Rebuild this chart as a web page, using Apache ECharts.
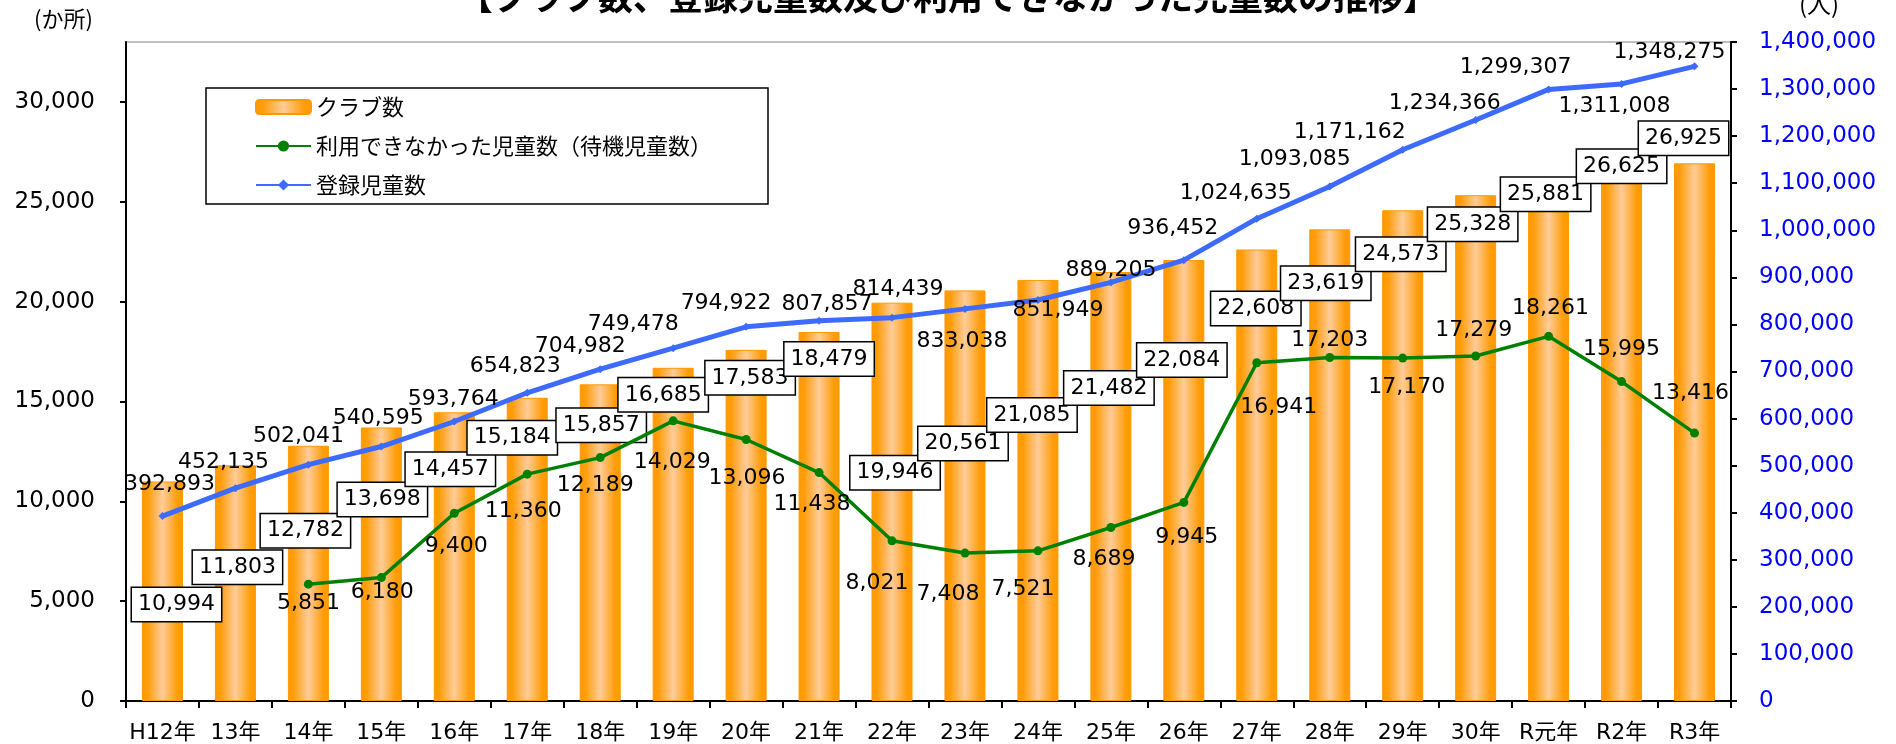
<!DOCTYPE html>
<html>
<head>
<meta charset="utf-8">
<title>クラブ数の推移</title>
<script src="https://cdn.jsdelivr.net/npm/echarts@6/dist/echarts.min.js"></script>
<style>
  html, body { margin: 0; padding: 0; background: #fff; }
  #chart { width: 1896px; height: 744px; }
</style>
</head>
<body>
<div id="chart"></div>
<script>
// --- data ---
var years = ['H12年', '13年', '14年', '15年', '16年', '17年', '18年', '19年', '20年', '21年', '22年',
  '23年', '24年', '25年', '26年', '27年', '28年', '29年', '30年', 'R元年', 'R2年', 'R3年'];

// クラブ数 (か所)
var clubs = [10994, 11803, 12782, 13698, 14457, 15184, 15857, 16685, 17583, 18479, 19946,
  20561, 21085, 21482, 22084, 22608, 23619, 24573, 25328, 25881, 26625, 26925];

// 利用できなかった児童数（待機児童数） - no data for H12, 13
var waiting = [null, null, 5851, 6180, 9400, 11360, 12189, 14029, 13096, 11438, 8021,
  7408, 7521, 8689, 9945, 16941, 17203, 17170, 17279, 18261, 15995, 13416];

// 登録児童数 (人)
var enrolled = [392893, 452135, 502041, 540595, 593764, 654823, 704982, 749478, 794922, 807857, 814439,
  833038, 851949, 889205, 936452, 1024635, 1093085, 1171162, 1234366, 1299307, 1311008, 1348275];

// axis ranges
var leftMax = 33000, leftStep = 5000;
var rightMax = 1400000, rightStep = 100000;

// where each data label sits, relative to its bar top / point (px)
var clubLabelPos = [[14, 123], [2, 102], [-3, 85], [1, 72], [-4, 57], [-15, 40], [1, 41], [-10, 27],
  [4, 28], [10, 27], [3, 170], [-2, 153], [-6, 135], [-2, 116], [-2, 100], [-1, 59], [-4, 54],
  [-2, 44], [-3, 29], [-3, 10], [0, -3], [-11, -25]];
var waitingLabelPos = [null, null, [0, 19], [1, 15], [2, 33], [-4, 37], [-5, 28], [-1, 41],
  [1, 39], [-7, 32], [-15, 42], [-17, 41], [-15, 38], [-7, 32], [3, 35], [22, 45], [0, -17],
  [4, 29], [-2, -26], [2, -28], [0, -32], [-4, -40]];
var enrolledLabelPos = [[7, -32], [-12, -26], [-10, -28], [-3, -28], [-1, -22], [-12, -26], [-20, -23],
  [-40, -24], [-20, -24], [8, -16], [6, -28], [-3, 32], [20, 10], [0, -12], [-11, -32], [-21, -25],
  [-35, -27], [-53, -17], [-31, -17], [-33, -22], [-7, 22], [-25, -14]];

var fmt = function (v) {
  return String(v).replace(/\B(?=(\d{3})+(?!\d))/g, ',');
};

var labelFont = 'DejaVu Sans, "Noto Sans CJK JP", sans-serif';

var clubData = clubs.map(function (v, i) {
  return { value: v, label: { offset: clubLabelPos[i] } };
});
var waitingData = waiting.map(function (v, i) {
  if (v == null) return '-';
  return { value: v, label: { offset: waitingLabelPos[i] } };
});
var enrolledData = enrolled.map(function (v, i) {
  return { value: v, label: { offset: enrolledLabelPos[i] } };
});

var barColor = {
  type: 'linear', x: 0, y: 0, x2: 1, y2: 0,
  colorStops: [
    { offset: 0, color: '#ff9900' },
    { offset: 0.14, color: '#ff9d0a' },
    { offset: 0.5, color: '#ffcc99' },
    { offset: 0.86, color: '#ff9d0a' },
    { offset: 1, color: '#ff9900' }
  ]
};

var myChart = echarts.init(document.getElementById('chart'));
var option = {
  backgroundColor: '#fff',
  animation: false,
  textStyle: { fontFamily: labelFont },
  title: {
    text: '【クラブ数、登録児童数及び利用できなかった児童数の推移】',
    left: 'center',
    top: -26,
    textStyle: { fontSize: 35, fontWeight: 'bold', color: '#000', fontFamily: '"Noto Sans CJK JP", sans-serif' }
  },
  graphic: [
    { type: 'text', left: 34, top: 8, style: { text: '(か所)', fill: '#000', font: '22px "Noto Sans CJK JP"' } },
    { type: 'text', left: 1799, top: -8, style: { text: '(人)', fill: '#000', font: '24px "Noto Sans CJK JP"' } }
  ],
  legend: {
    orient: 'vertical',
    left: 206,
    top: 88,
    padding: [8, 56, 8, 49],
    itemWidth: 55,
    itemHeight: 14,
    itemGap: 17,
    borderColor: '#000',
    borderWidth: 1.5,
    textStyle: { fontSize: 22, color: '#000', lineHeight: 22, fontFamily: '"Noto Sans CJK JP", sans-serif' },
    data: ['クラブ数', '利用できなかった児童数（待機児童数）', '登録児童数']
  },
  grid: {
    left: 126, right: 165, top: 42, bottom: 42,
    show: true, borderColor: '#c0c0c0', borderWidth: 2
  },
  xAxis: {
    type: 'category',
    data: years,
    axisLine: { lineStyle: { color: '#000', width: 2 } },
    axisTick: { show: true, length: 7, lineStyle: { color: '#000', width: 2 } },
    axisLabel: { fontSize: 22, color: '#000', margin: 21, interval: 0 }
  },
  yAxis: [
    {
      type: 'value', min: 0, max: leftMax, interval: leftStep,
      axisLine: { show: true, lineStyle: { color: '#000', width: 2 } },
      axisTick: { show: true, length: 6, lineStyle: { color: '#000', width: 2 } },
      axisLabel: { fontSize: 23, color: '#000', margin: 31, showMaxLabel: false, formatter: fmt },
      splitLine: { show: false }
    },
    {
      type: 'value', min: 0, max: rightMax, interval: rightStep,
      axisLine: { show: true, lineStyle: { color: '#000', width: 2 } },
      axisTick: { show: true, length: 6, lineStyle: { color: '#000', width: 2 } },
      axisLabel: { fontSize: 23, color: '#0000ff', margin: 28, formatter: fmt },
      splitLine: { show: false }
    }
  ],
  series: [
    {
      name: 'クラブ数',
      type: 'bar',
      data: clubData,
      barWidth: 41,
      itemStyle: { color: barColor, borderColor: '#ff9900', borderWidth: 1 },
      label: {
        show: true,
        position: 'top',
        distance: 0,
        verticalAlign: 'middle',
        formatter: function (p) { return fmt(p.value); },
        fontSize: 22,
        color: '#000',
        backgroundColor: '#fff',
        borderColor: '#000',
        borderWidth: 1.5,
        padding: [5, 6, 4, 6],
        lineHeight: 24
      },
      z: 2
    },
    {
      name: '利用できなかった児童数（待機児童数）',
      type: 'line',
      data: waitingData,
      color: '#008000',
      symbol: 'circle',
      symbolSize: 9,
      lineStyle: { width: 3.5, color: '#008000' },
      itemStyle: { color: '#008000' },
      label: {
        show: true,
        position: 'inside',
        formatter: function (p) { return fmt(p.value); },
        fontSize: 22,
        color: '#000'
      },
      z: 3
    },
    {
      name: '登録児童数',
      type: 'line',
      yAxisIndex: 1,
      data: enrolledData,
      color: '#3d6bff',
      symbol: 'diamond',
      symbolSize: 8,
      lineStyle: { width: 5, color: '#3d6bff' },
      itemStyle: { color: '#3d6bff' },
      label: {
        show: true,
        position: 'inside',
        formatter: function (p) { return fmt(p.value); },
        fontSize: 22,
        color: '#000'
      },
      z: 4
    }
  ]
};
myChart.setOption(option);
window.onresize = myChart.resize;
</script>
</body>
</html>
